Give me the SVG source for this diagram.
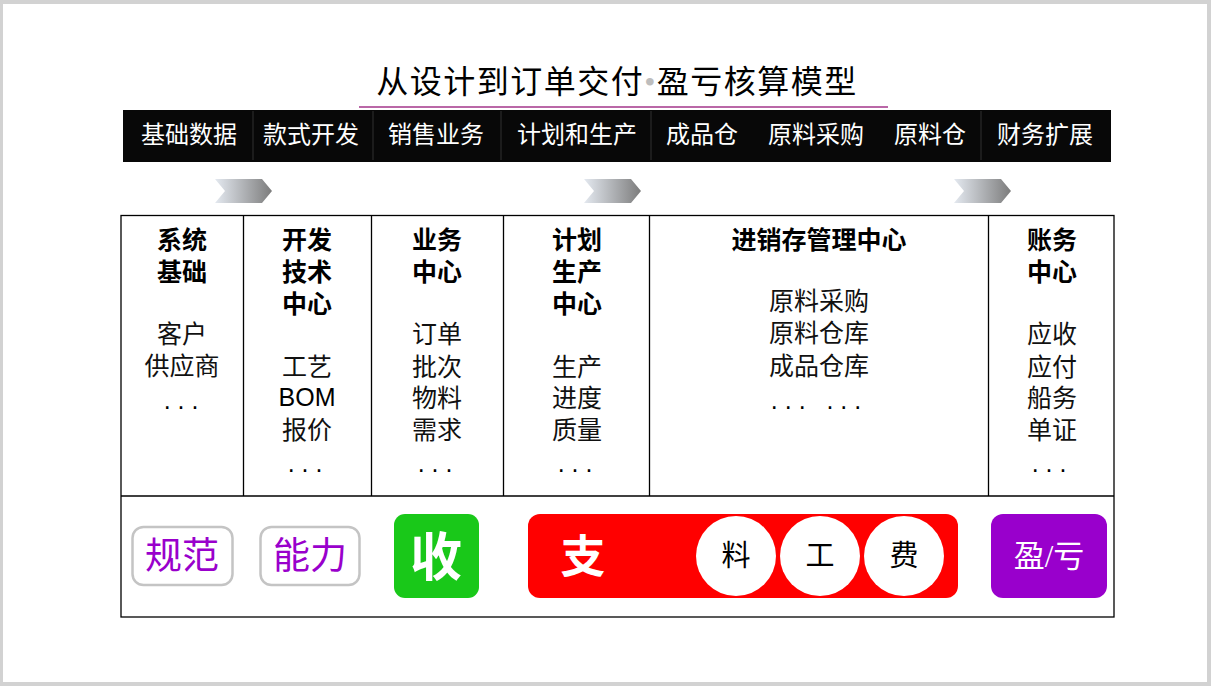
<svg xmlns="http://www.w3.org/2000/svg" width="1211" height="686" viewBox="0 0 1211 686">
<defs>
<linearGradient id="chev" x1="0" y1="0" x2="1" y2="0">
<stop offset="0" stop-color="#e4e9f0"/>
<stop offset="1" stop-color="#7c7c7c"/>
</linearGradient>
<polygon id="chevron" points="0,0 47,0 57,12 47,24 0,24 10,12" fill="url(#chev)"/>
</defs>
<style>
.hdr{font-family:"Liberation Sans","Noto Sans CJK SC",sans-serif;font-size:24px;fill:#ffffff;text-anchor:middle}
.hd{font-family:"Liberation Sans","Noto Sans CJK SC",sans-serif;font-size:25px;font-weight:bold;fill:#000;text-anchor:middle}
.it{font-family:"Liberation Sans","Noto Sans CJK SC",sans-serif;font-size:25px;fill:#111;text-anchor:middle}
.en{font-family:"Liberation Sans","Noto Sans CJK SC",sans-serif;fill:#000}
.dots{font-family:"Liberation Sans",sans-serif;fill:#000}
.grid{stroke:#000;stroke-width:1.3;fill:none}
.pill{fill:#fff;stroke:#c4c4c4;stroke-width:2.5}
.pt{font-family:"Liberation Serif","Noto Sans CJK SC",serif;font-size:37px;fill:#9900cc;text-anchor:middle}
.big{font-family:"Liberation Sans","Noto Sans CJK SC",sans-serif;font-weight:bold;fill:#fff;text-anchor:middle}
.ct{font-family:"Liberation Serif","Noto Sans CJK SC",serif;font-size:29px;fill:#000;text-anchor:middle}
</style>
<rect x="0" y="0" width="1211" height="686" fill="#d2d2d2"/>
<rect x="3" y="4" width="1204" height="678" fill="#ffffff"/>

<g id="title">
<text x="617" y="93" font-family="Liberation Serif, Noto Sans CJK SC, serif" font-size="32" fill="#000" text-anchor="middle" letter-spacing="1.5">从设计到订单交付<tspan fill="#bdbdbd">•</tspan>盈亏核算模型</text>
<line x1="359" y1="107" x2="888" y2="107" stroke="#a3358a" stroke-width="1.3"/>
</g>

<g id="header-bar">
<rect x="123" y="110" width="988" height="52" fill="#080808"/>
<g stroke="#303030" stroke-width="1">
<line x1="253" y1="111" x2="253" y2="160"/>
<line x1="373" y1="111" x2="373" y2="160"/>
<line x1="501" y1="111" x2="501" y2="160"/>
<line x1="651" y1="111" x2="651" y2="160"/>
<line x1="981" y1="111" x2="981" y2="160"/>
</g>
<text class="hdr" x="189" y="143">基础数据</text>
<text class="hdr" x="311" y="143">款式开发</text>
<text class="hdr" x="436" y="143">销售业务</text>
<text class="hdr" x="577" y="143">计划和生产</text>
<text class="hdr" x="702" y="143">成品仓</text>
<text class="hdr" x="816" y="143">原料采购</text>
<text class="hdr" x="930" y="143">原料仓</text>
<text class="hdr" x="1045" y="143">财务扩展</text>
</g>

<g id="chevrons">
<use href="#chevron" x="215" y="179"/>
<use href="#chevron" x="584" y="179"/>
<use href="#chevron" x="954" y="179"/>
</g>

<g id="table-grid" class="grid">
<rect x="121" y="215.5" width="993" height="401.5"/>
<line x1="121" y1="496" x2="1114" y2="496"/>
<line x1="243.5" y1="215.5" x2="243.5" y2="496"/>
<line x1="371.5" y1="215.5" x2="371.5" y2="496"/>
<line x1="503.5" y1="215.5" x2="503.5" y2="496"/>
<line x1="649.5" y1="215.5" x2="649.5" y2="496"/>
<line x1="988.5" y1="215.5" x2="988.5" y2="496"/>
</g>

<g id="col-system">
<text class="hd" x="182" y="249">系统<tspan x="182" dy="32">基础</tspan></text>
<text class="it" x="182" y="343">客户<tspan x="182" dy="32">供应商</tspan><tspan class="dots" x="181" dy="34">. . .</tspan></text>
</g>

<g id="col-dev">
<text class="hd" x="307" y="249">开发<tspan x="307" dy="32">技术</tspan><tspan x="307" dy="32">中心</tspan></text>
<text class="it" x="307" y="376">工艺<tspan class="en" x="307" dy="30">BOM</tspan><tspan x="307" dy="33">报价</tspan><tspan class="dots" x="305" dy="33">. . .</tspan></text>
</g>

<g id="col-business">
<text class="hd" x="437" y="249">业务<tspan x="437" dy="32">中心</tspan></text>
<text class="it" x="437" y="343">订单<tspan x="437" dy="33">批次</tspan><tspan x="437" dy="31">物料</tspan><tspan x="437" dy="32">需求</tspan><tspan class="dots" x="435" dy="33">. . .</tspan></text>
</g>

<g id="col-plan">
<text class="hd" x="577" y="249">计划<tspan x="577" dy="32">生产</tspan><tspan x="577" dy="32">中心</tspan></text>
<text class="it" x="577" y="376">生产<tspan x="577" dy="31">进度</tspan><tspan x="577" dy="32">质量</tspan><tspan class="dots" x="575" dy="33">. . .</tspan></text>
</g>

<g id="col-inventory">
<text class="hd" x="819" y="249">进销存管理中心</text>
<text class="it" x="819" y="310" xml:space="preserve">原料采购<tspan x="819" dy="32">原料仓库</tspan><tspan x="819" dy="33">成品仓库</tspan><tspan class="dots" x="816" dy="34">. . .   . . .</tspan></text>
</g>

<g id="col-finance">
<text class="hd" x="1052" y="249">账务<tspan x="1052" dy="32">中心</tspan></text>
<text class="it" x="1052" y="343">应收<tspan x="1052" dy="33">应付</tspan><tspan x="1052" dy="31">船务</tspan><tspan x="1052" dy="32">单证</tspan><tspan class="dots" x="1049" dy="33">. . .</tspan></text>
</g>

<g id="node-guifan">
<rect class="pill" x="132.5" y="527" width="100" height="58" rx="11"/>
<text class="pt" x="182" y="569">规范</text>
</g>
<g id="node-nengli">
<rect class="pill" x="260.5" y="527" width="99" height="58" rx="11"/>
<text class="pt" x="310" y="569">能力</text>
</g>
<g id="node-shou">
<rect x="394" y="514" width="85" height="84" rx="11" fill="#19c819"/>
<text class="big" x="436" y="576" font-size="52">收</text>
</g>
<g id="node-zhi">
<rect x="528" y="514" width="430" height="84" rx="12" fill="#ff0000"/>
<text class="big" x="583" y="573" font-size="45">支</text>
</g>
<g id="node-liao">
<circle cx="736" cy="556" r="40" fill="#fff"/>
<text class="ct" x="736" y="566">料</text>
</g>
<g id="node-gong">
<circle cx="820" cy="556" r="40" fill="#fff"/>
<text class="ct" x="820" y="566">工</text>
</g>
<g id="node-fei">
<circle cx="904" cy="556" r="40" fill="#fff"/>
<text class="ct" x="904" y="566">费</text>
</g>
<g id="node-yingkui">
<rect x="991" y="514" width="116" height="84" rx="12" fill="#9900cc"/>
<text x="1049" y="567" font-family="Liberation Serif, Noto Sans CJK SC, serif" font-size="31" fill="#fff" text-anchor="middle">盈/亏</text>
</g>
</svg>
